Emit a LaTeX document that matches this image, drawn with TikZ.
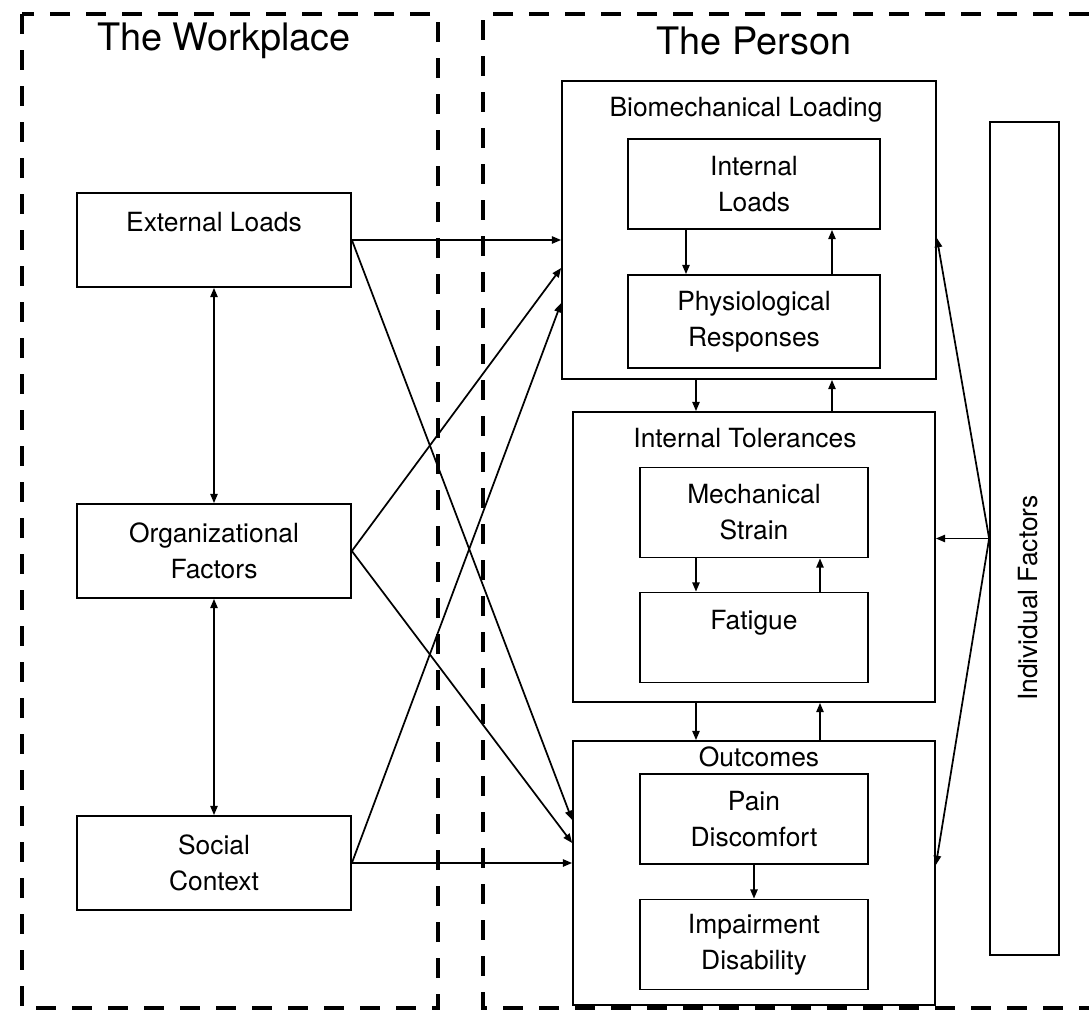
\documentclass[tikz,border=0pt]{standalone}
\usepackage{fontspec}
\setmainfont{TeX Gyre Heros}
\usetikzlibrary{arrows.meta,calc}

\tikzset{every picture/.style={line width=1.3pt}}
\tikzset{
  boxfont/.style={font=\fontsize{19.8}{27}\selectfont},
  wbox/.style={draw, boxfont, align=center, inner sep=0pt, minimum width=205.5pt, minimum height=70.5pt},
  ibox/.style={draw, boxfont, align=center, inner sep=0pt, minimum width=171pt, minimum height=67.5pt},
  obox/.style={draw, inner sep=0pt, minimum width=271.5pt},
  dashframe/.style={line width=3pt, dash pattern=on 15pt off 12pt},
  heading/.style={font=\fontsize{28.4}{34}\selectfont},
  conn/.style={-{Triangle[length=7pt,width=5.5pt]}},
  dconn/.style={{Triangle[length=7pt,width=5.5pt]}-{Triangle[length=7pt,width=5.5pt]}}
}

\begin{document}
\begin{tikzpicture}[x=0.75pt,y=0.75pt,yscale=-1,xscale=1]
\useasboundingbox (0,0) rectangle (1089,1017);

%Frames
\draw [dashframe] (22,14) rectangle (438,1008) ;
\draw [dashframe] (1089,14) -- (483,14) -- (483,1008) -- (1089,1008) ;
\node [heading] (wtitle) at (224,41) {The Workplace};
\node [heading] (ptitle) at (754,41) {The Person};

%The Workplace
\node [wbox] (ext) at (214,240) {External Loads\\~};
\node [wbox] (org) at (214,551) {Organizational\\Factors};
\node [wbox] (soc) at (214,863) {Social\\Context};

%Biomechanical Loading
\node [obox, minimum width=280.5pt, minimum height=223.5pt] (bio) at (749,230) {};
\node [boxfont] (biotitle) at (746,110) {Biomechanical Loading};
\node [ibox, minimum width=189pt] (intld) at (754,184) {Internal\\Loads};
\node [ibox, minimum width=189pt, minimum height=69.75pt] (phys) at (754,321.5) {Physiological\\Responses};

%Internal Tolerances
\node [obox, minimum height=217.5pt] (tol) at (754,557) {};
\node [boxfont] (toltitle) at (745,438) {Internal Tolerances};
\node [ibox] (mech) at (754,512.5) {Mechanical\\Strain};
\node [ibox] (fat) at (754,637.5) {Fatigue\\~};

%Outcomes
\node [obox, minimum height=198pt] (out) at (754,873) {};
\node [boxfont] (outtitle) at (759,757) {Outcomes};
\node [ibox] (pain) at (754,819) {Pain\\Discomfort};
\node [ibox] (imp) at (754,944.5) {Impairment\\Disability};

%Individual Factors
\node [draw, inner sep=0pt, minimum width=51.75pt, minimum height=624.75pt] (ind) at (1024.5,538.5) {};
\node [boxfont, rotate=90] (indtitle) at (1028,598) {Individual Factors};

%Workplace links
\draw [dconn] (ext.south) -- (org.north) ;
\draw [dconn] (org.south) -- (soc.north) ;

%Workplace to person
\draw [conn] (ext.east) -- (ext.east -| bio.west) ;
\draw [conn] (org.east) -- ($(bio.west)+(0,38)$) ;
\draw [conn] (soc.east) -- ($(bio.west)+(0,73)$) ;
\draw [conn] (ext.east) -- ($(out.west)+(0,-53)$) ;
\draw [conn] (org.east) -- ($(out.west)+(0,-30)$) ;
\draw [conn] (soc.east) -- (soc.east -| out.west) ;

%Inside the person
\draw [conn] ($(intld.south)+(-68,0)$) -- ($(phys.north)+(-68,0)$) ;
\draw [conn] ($(phys.north)+(78,0)$) -- ($(intld.south)+(78,0)$) ;
\draw [conn] ($(bio.south)+(-53,0)$) -- ($(tol.north)+(-58,0)$) ;
\draw [conn] ($(tol.north)+(78,0)$) -- ($(bio.south)+(83,0)$) ;
\draw [conn] ($(mech.south)+(-58,0)$) -- ($(fat.north)+(-58,0)$) ;
\draw [conn] ($(fat.north)+(66,0)$) -- ($(mech.south)+(66,0)$) ;
\draw [conn] ($(tol.south)+(-58,0)$) -- ($(out.north)+(-58,0)$) ;
\draw [conn] ($(out.north)+(66,0)$) -- ($(tol.south)+(66,0)$) ;
\draw [conn] (pain.south) -- (imp.north) ;

%Individual factors
\draw [conn] (ind.west) -- ($(bio.east)+(0,8)$) ;
\draw [conn] (ind.west) -- (ind.west -| tol.east) ;
\draw [conn] (ind.west) -- ($(out.east)+(0,-8)$) ;

\end{tikzpicture}
\end{document}
